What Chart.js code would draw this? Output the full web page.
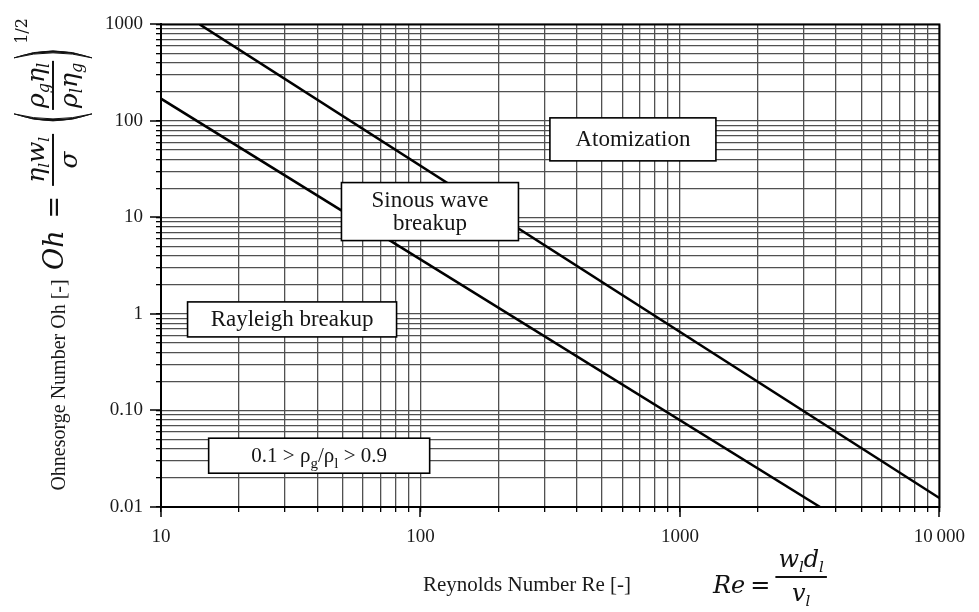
<!DOCTYPE html>
<html>
<head>
<meta charset="utf-8">
<title>Jet breakup regimes</title>
<script src="https://cdn.jsdelivr.net/npm/chart.js@4.4.1/dist/chart.umd.min.js"></script>
<style>
  html, body { margin: 0; padding: 0; background: #fff; }
</style>
</head>
<body>
<canvas id="regimeChart" width="979" height="612"></canvas>
<script>
// boundary lines between the breakup regimes (Re on x, Oh on y)
const upperBoundRe = [14.1, 10000];
const upperBoundOh = [1000, 0.0124];
const lowerBoundRe = [10, 3470];
const lowerBoundOh = [170, 0.01];

// decades on each log axis and how they are printed
const reDecades = [10, 100, 1000, 10000];
const reTickLabels = ["10", "100", "1000", "10\u2009000"];
const ohDecades = [0.01, 0.1, 1, 10, 100, 1000];
const ohTickLabels = ["0.01", "0.10", "1", "10", "100", "1000"];

// regime names, anchored at (Re, Oh)
const regionNames = [["Atomization"], ["Sinous wave", "breakup"], ["Rayleigh breakup"], ["density"]];
const regionRe = [659, 108.8, 32.0, 40.7];
const regionOh = [64.4, 11.5, 0.878, 0.034];
// box size in px for each label
const regionBoxW = [166, 177, 209, 221];
const regionBoxH = [43, 58, 35, 35];

const serif = '"Liberation Serif", "Times New Roman", serif';
const mathFamily = '"DejaVu Serif", serif';

// 1..9 times every decade, so each gets its own grid line
function logTicks(decades) {
  let out = [];
  for (let i = 0; i < decades.length - 1; i++) {
    for (let k = 1; k <= 9; k++) {
      out.push({ value: Number((k * decades[i]).toPrecision(6)) });
    }
  }
  out.push({ value: decades[decades.length - 1] });
  return out;
}

function decadeLabel(value, decades, labels) {
  for (let i = 0; i < decades.length; i++) {
    if (Math.abs(Math.log10(value) - Math.log10(decades[i])) < 1e-6) return labels[i];
  }
  return "";
}

function toPoints(xs, ys) {
  return xs.map((x, i) => ({ x: x, y: ys[i] }));
}

// draws a run of text pieces one after another, returns the end x
function drawPieces(ctx, pieces, x, y, dryRun) {
  for (let p of pieces) {
    ctx.font = (p.italic ? "italic " : "") + p.size + "px " + (p.family || mathFamily);
    if (!dryRun) ctx.fillText(p.t, x, y + (p.dy || 0));
    x += ctx.measureText(p.t).width + (p.gap || 0);
  }
  return x;
}

function piecesWidth(ctx, pieces) {
  return drawPieces(ctx, pieces, 0, 0, true);
}

// stacked fraction with its bar at y = 0 in the current frame
function drawFraction(ctx, num, den, x, numBase, denBase, pad) {
  const wn = piecesWidth(ctx, num);
  const wd = piecesWidth(ctx, den);
  const w = Math.max(wn, wd) + (pad || 6);
  drawPieces(ctx, num, x + (w - wn) / 2, numBase);
  drawPieces(ctx, den, x + (w - wd) / 2, denBase);
  ctx.fillRect(x, -1, w, 2);
  return x + w;
}

function drawParen(ctx, x, half, left) {
  const bulge = left ? -10 : 10;
  ctx.beginPath();
  ctx.moveTo(x, -half);
  ctx.quadraticCurveTo(x + bulge, 0, x, half);
  ctx.quadraticCurveTo(x + bulge * 1.4, 0, x, -half);
  ctx.fill();
  ctx.lineWidth = 1;
  ctx.stroke();
}

const decorPlugin = {
  id: "decor",
  afterDatasetsDraw(chart) {
    const ctx = chart.ctx;
    const area = chart.chartArea;
    const xs = chart.scales.x;
    const ys = chart.scales.y;
    ctx.save();

    // longer tick marks at the decades
    ctx.strokeStyle = "#000";
    ctx.lineWidth = 1.5;
    ctx.beginPath();
    for (let d of ohDecades) {
      const py = Math.round(ys.getPixelForValue(d));
      ctx.moveTo(area.left - 11, py);
      ctx.lineTo(area.left, py);
    }
    for (let d of reDecades) {
      const px = Math.round(xs.getPixelForValue(d));
      ctx.moveTo(px, area.bottom);
      ctx.lineTo(px, area.bottom + 10);
    }
    ctx.stroke();

    // frame round the plot
    ctx.lineWidth = 2;
    ctx.strokeRect(area.left, area.top, area.right - area.left, area.bottom - area.top);

    // regime label boxes
    for (let i = 0; i < regionNames.length; i++) {
      const cx = xs.getPixelForValue(regionRe[i]);
      const cy = ys.getPixelForValue(regionOh[i]);
      const w = regionBoxW[i], h = regionBoxH[i];
      ctx.fillStyle = "#fff";
      ctx.fillRect(cx - w / 2, cy - h / 2, w, h);
      ctx.strokeStyle = "#000";
      ctx.lineWidth = 1.6;
      ctx.strokeRect(cx - w / 2, cy - h / 2, w, h);
      ctx.fillStyle = "#151515";
      ctx.textBaseline = "alphabetic";
      if (regionNames[i][0] === "density") {
        const pieces = [
          { t: "0.1 > \u03c1", size: 21, family: serif },
          { t: "g", size: 15, family: serif, dy: 6 },
          { t: "/\u03c1", size: 21, family: serif },
          { t: "l", size: 15, family: serif, dy: 6 },
          { t: " > 0.9", size: 21, family: serif }
        ];
        ctx.textAlign = "left";
        drawPieces(ctx, pieces, cx - piecesWidth(ctx, pieces) / 2, cy + 6);
      } else {
        ctx.textAlign = "center";
        ctx.font = "23px " + serif;
        const lines = regionNames[i];
        const lh = 23;
        for (let j = 0; j < lines.length; j++) {
          ctx.fillText(lines[j], cx, cy + 7 + (j - (lines.length - 1) / 2) * lh);
        }
      }
    }

    // axis titles
    ctx.fillStyle = "#1a1a1a";
    ctx.textAlign = "center";
    ctx.textBaseline = "middle";
    ctx.font = "21px " + serif;
    ctx.fillText("Reynolds Number Re [-]", 527, 585);
    ctx.save();
    ctx.translate(60, 385);
    ctx.rotate(-Math.PI / 2);
    ctx.font = "20px " + serif;
    ctx.fillText("Ohnesorge Number Oh [-]", 0, 0);
    ctx.restore();

    // Re = w_l d_l / v_l
    ctx.fillStyle = "#111";
    ctx.strokeStyle = "#111";
    ctx.textAlign = "left";
    ctx.textBaseline = "alphabetic";
    ctx.save();
    ctx.translate(713, 577);
    let x = drawPieces(ctx, [{ t: "Re", size: 24, italic: true, gap: 5 }, { t: "=", size: 24, gap: 5 }], 0, 16);
    drawFraction(ctx,
      [{ t: "w", size: 24, italic: true }, { t: "l", size: 15, italic: true, dy: 5 }, { t: "d", size: 24, italic: true }, { t: "l", size: 15, italic: true, dy: 5 }],
      [{ t: "v", size: 24, italic: true }, { t: "l", size: 15, italic: true, dy: 5 }],
      x, -10, 24);
    ctx.restore();

    // Oh = (eta_l w_l / sigma) (rho_g eta_l / rho_l eta_g)^(1/2), written upwards
    ctx.save();
    ctx.translate(53, 272);
    ctx.rotate(-Math.PI / 2);
    x = drawPieces(ctx, [{ t: "Oh", size: 27, italic: true, gap: 12 }, { t: "=", size: 27, gap: 10 }], 2, 10);
    x = drawFraction(ctx,
      [{ t: "\u03b7", size: 25, italic: true }, { t: "l", size: 15, italic: true, dy: 5 }, { t: "w", size: 25, italic: true }, { t: "l", size: 15, italic: true, dy: 5 }],
      [{ t: "\u03c3", size: 25, italic: true }],
      x, -9, 24);
    x += 20;
    drawParen(ctx, x, 39, true);
    x += 4;
    x = drawFraction(ctx,
      [{ t: "\u03c1", size: 25, italic: true }, { t: "g", size: 16, italic: true, dy: 5 }, { t: "\u03b7", size: 25, italic: true }, { t: "l", size: 16, italic: true, dy: 5 }],
      [{ t: "\u03c1", size: 25, italic: true }, { t: "l", size: 16, italic: true, dy: 5 }, { t: "\u03b7", size: 25, italic: true }, { t: "g", size: 16, italic: true, dy: 5 }],
      x, -9, 24, 4);
    x += 3;
    drawParen(ctx, x, 39, false);
    drawPieces(ctx, [{ t: "1/2", size: 16 }], x + 14, -26);
    ctx.restore();

    ctx.restore();
  }
};

const lineStyle = {
  showLine: true,
  borderColor: "#000",
  borderWidth: 2.5,
  pointRadius: 0,
  fill: false
};

let regimeChart = new Chart("regimeChart", {
  type: "scatter",
  data: {
    datasets: [
      Object.assign({ label: "upper", data: toPoints(upperBoundRe, upperBoundOh) }, lineStyle),
      Object.assign({ label: "lower", data: toPoints(lowerBoundRe, lowerBoundOh) }, lineStyle)
    ]
  },
  options: {
    responsive: false,
    devicePixelRatio: 1,
    animation: false,
    layout: { padding: { top: 22, right: 37, left: 0, bottom: 0 } },
    plugins: { legend: { display: false }, tooltip: { enabled: false } },
    scales: {
      x: {
        type: "logarithmic",
        min: reDecades[0],
        max: reDecades[reDecades.length - 1],
        afterBuildTicks: (axis) => { axis.ticks = logTicks(reDecades); },
        afterFit: (axis) => { axis.height = 105; },
        grid: { color: "#505050", lineWidth: 1.3, tickLength: 5, tickColor: "#000" },
        border: { color: "#000", width: 2 },
        ticks: {
          autoSkip: false,
          maxRotation: 0,
          padding: 14,
          color: "#1a1a1a",
          font: { family: serif, size: 19 },
          callback: (v) => decadeLabel(v, reDecades, reTickLabels)
        }
      },
      y: {
        type: "logarithmic",
        min: ohDecades[0],
        max: ohDecades[ohDecades.length - 1],
        afterBuildTicks: (axis) => { axis.ticks = logTicks(ohDecades); },
        afterFit: (axis) => { axis.width = 161; },
        grid: { color: "#505050", lineWidth: 1.3, tickLength: 5, tickColor: "#000" },
        border: { color: "#000", width: 2 },
        ticks: {
          autoSkip: false,
          padding: 13,
          color: "#1a1a1a",
          font: { family: serif, size: 19 },
          callback: (v) => decadeLabel(v, ohDecades, ohTickLabels)
        }
      }
    }
  },
  plugins: [decorPlugin]
});
</script>
</body>
</html>
